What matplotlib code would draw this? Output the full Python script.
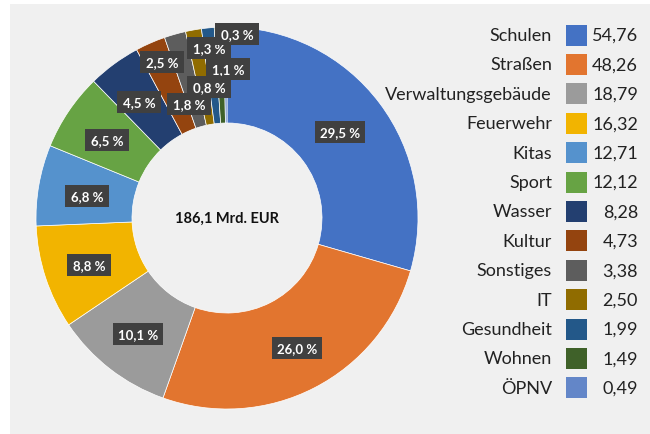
"""Donut chart: Investitionsrückstand nach Bereichen."""

import matplotlib
matplotlib.use("Agg")
import matplotlib.pyplot as plt
from matplotlib.patches import Rectangle

plt.rcParams["font.family"] = ["Lato", "DejaVu Sans"]

categories = ["Schulen", "Straßen", "Verwaltungsgebäude", "Feuerwehr", "Kitas", "Sport",
              "Wasser", "Kultur", "Sonstiges", "IT", "Gesundheit", "Wohnen", "ÖPNV"]
values = [54.76, 48.26, 18.79, 16.32, 12.71, 12.12, 8.28, 4.73, 3.38, 2.50, 1.99, 1.49, 0.49]
colors = ["#4472C4", "#E2752F", "#9B9B9B", "#F2B400", "#5592CD", "#67A344", "#233F70",
          "#94440F", "#5D5D5D", "#906C00", "#235889", "#3F6129", "#6386C8"]
total_label = "186,1 Mrd. EUR"

# label box centres (pixels from top-left), placed by hand like the original
label_pos = [(340, 133), (297, 349), (138, 335), (89, 266), (87, 197), (107, 141),
             (139, 103), (162, 63), (189, 105), (209, 49), (228, 70), (209, 88), (237, 35)]

W, H = 650, 435
fig = plt.figure(figsize=(6.5, 4.35), dpi=100, facecolor="white")
ax = fig.add_axes([0, 0, 1, 1])

ax.add_patch(Rectangle((10, 0), W - 10, H - 5, facecolor="#f0f0f0", edgecolor="none", zorder=0))

cx, cy, r_out = 227, H - 219, 191
ax.pie(values, colors=colors, startangle=90, counterclock=False, radius=r_out,
       center=(cx, cy), frame=False,
       wedgeprops=dict(width=r_out - 95, edgecolor="white", linewidth=0.5))
ax.text(cx, cy, total_label, ha="center", va="center", fontsize=10.5,
        fontweight="bold", color="#111111")

total = sum(values)
for v, (px, py) in zip(values, label_pos):
    pct = f"{v / total * 100:.1f} %".replace(".", ",")
    ax.text(px, H - py, pct, ha="center", va="center", fontsize=9.5, fontweight="bold",
            color="white", zorder=5,
            bbox=dict(boxstyle="square,pad=0.4", facecolor="#404040", edgecolor="none"))

# legend: name | swatch | value
row0, step = 36, 29.4
for i, (name, val, col) in enumerate(zip(categories, values, colors)):
    y = H - (row0 + i * step)
    ax.text(552, y, name, ha="right", va="center", fontsize=13, color="#222222")
    ax.add_patch(Rectangle((566, y - 10.5), 21, 21, facecolor=col, edgecolor="none"))
    ax.text(638, y, f"{val:.2f}".replace(".", ","), ha="right", va="center",
            fontsize=13, color="#222222")

ax.set_xlim(0, W)
ax.set_ylim(0, H)
ax.set_aspect("equal")
ax.axis("off")

fig.savefig("out.png", dpi=100, facecolor="white")
plt.close(fig)
